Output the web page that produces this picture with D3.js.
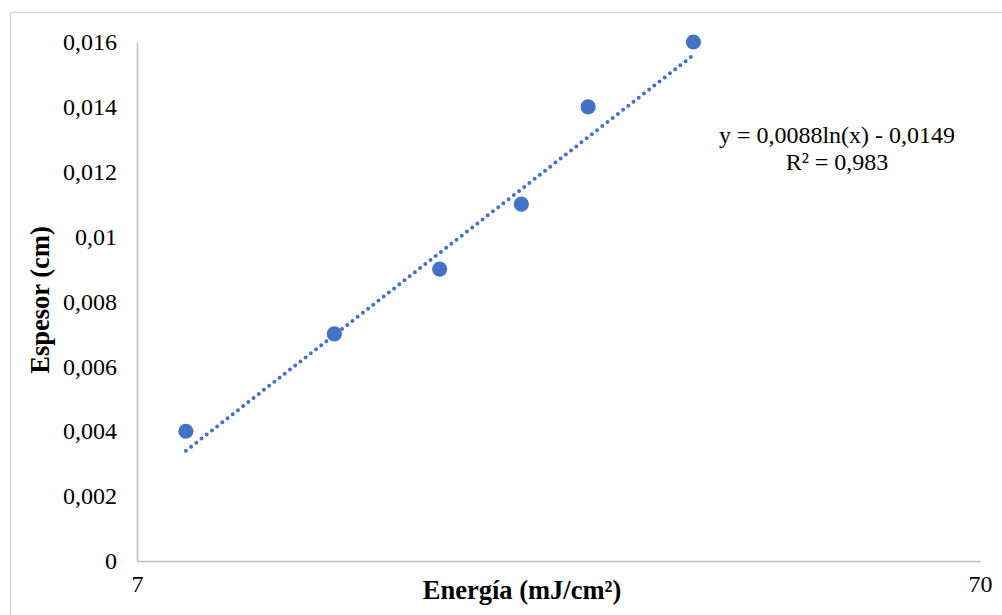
<!DOCTYPE html>
<html>
<head>
<meta charset="utf-8">
<script src="https://cdn.jsdelivr.net/npm/d3@7"></script>
<style>
  body { margin: 0; background: #fff; }
  svg text { font-family: "Liberation Serif", "Times New Roman", serif; fill: #000; }
</style>
</head>
<body>
<div id="chart"></div>
<script>
// data
var energia = [8, 12, 16, 20, 24, 32];
var espesor = [0.004, 0.007, 0.009, 0.011, 0.014, 0.016];
var yTicks = [0, 0.002, 0.004, 0.006, 0.008, 0.01, 0.012, 0.014, 0.016];
var xTicks = [7, 70];
var trend = {a: 0.0088, b: -0.0149};
var eqLines = ["y = 0,0088ln(x) - 0,0149", "R² = 0,983"];

var W = 1002, H = 615;
var margin = {top: 42, right: 22, bottom: 54, left: 137};
var width = W - margin.left - margin.right,
    height = H - margin.top - margin.bottom;
var color = "#4472C4";

var svg = d3.select("#chart").append("svg")
    .attr("width", W)
    .attr("height", H);

// chart area border
svg.append("rect")
    .attr("x", 10.5).attr("y", 12.5)
    .attr("width", W).attr("height", H)
    .attr("fill", "none")
    .attr("stroke", "#d9d9d9")
    .attr("stroke-width", 1.5);

var g = svg.append("g")
    .attr("transform", "translate(" + margin.left + "," + margin.top + ")");

var x = d3.scaleLog().domain([7, 70]).range([0, width]);
var y = d3.scaleLinear().domain([0, 0.016]).range([height, 0]);

var fmt = function(d) { return String(+d.toFixed(3)).replace(".", ","); };

// y axis
var yAxis = g.append("g")
    .call(d3.axisLeft(y).tickValues(yTicks).tickSize(0).tickPadding(20).tickFormat(fmt));
yAxis.select(".domain").attr("stroke", "#bfbfbf").attr("stroke-width", 1.5);
yAxis.selectAll("text").attr("font-size", 24).attr("dy", "0.32em")
    .style("font-family", "Liberation Serif");

// x axis
var xAxis = g.append("g")
    .attr("transform", "translate(0," + height + ")")
    .call(d3.axisBottom(x).tickValues(xTicks).tickSize(0).tickPadding(14).tickFormat(d3.format("d")));
xAxis.select(".domain").attr("stroke", "#bfbfbf").attr("stroke-width", 1.5);
xAxis.selectAll("text").attr("font-size", 24)
    .style("font-family", "Liberation Serif");

// trendline (logarithmic), dotted
var tx = d3.range(energia[0], energia[energia.length - 1] + 0.01, 0.25);
var line = d3.line()
    .x(function(d) { return x(d); })
    .y(function(d) { return y(trend.a * Math.log(d) + trend.b); });
g.append("path")
    .datum(tx)
    .attr("d", line)
    .attr("fill", "none")
    .attr("stroke", color)
    .attr("stroke-width", 4)
    .attr("stroke-linecap", "round")
    .attr("stroke-dasharray", "0,6.6");

// points
g.selectAll(".pt")
    .data(energia)
    .enter().append("circle")
    .attr("class", "pt")
    .attr("cx", function(d) { return x(d); })
    .attr("cy", function(d, i) { return y(espesor[i]); })
    .attr("r", 7.6)
    .attr("fill", color);

// equation label
svg.append("g")
    .selectAll("text")
    .data(eqLines)
    .enter().append("text")
    .attr("x", 837)
    .attr("y", function(d, i) { return 143 + i * 27; })
    .attr("text-anchor", "middle")
    .attr("font-size", 24)
    .text(function(d) { return d; });

// axis titles
svg.append("text")
    .attr("x", 522)
    .attr("y", 599)
    .attr("text-anchor", "middle")
    .attr("font-size", 26.5)
    .attr("font-weight", "bold")
    .text("Energía (mJ/cm²)");

svg.append("text")
    .attr("transform", "translate(49,300) rotate(-90)")
    .attr("text-anchor", "middle")
    .attr("font-size", 26.5)
    .attr("font-weight", "bold")
    .text("Espesor (cm)");
</script>
</body>
</html>
